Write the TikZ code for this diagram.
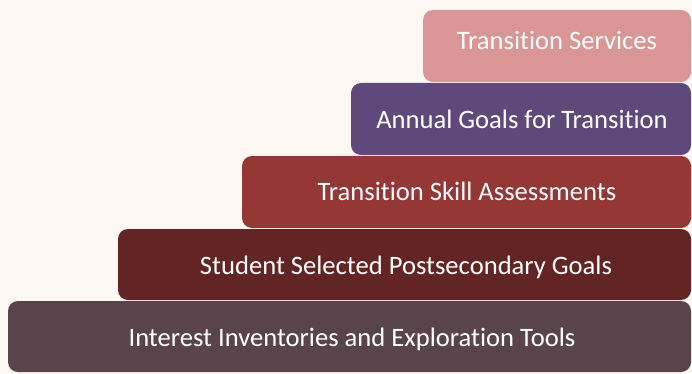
\documentclass[tikz,border=0pt]{standalone}
\usepackage{fontspec}
\setmainfont{Carlito}[Ligatures={NoCommon}]
\definecolor{bgc}{HTML}{FDF8F4}
\definecolor{c1}{HTML}{D99694}
\definecolor{c2}{HTML}{5F497A}
\definecolor{c3}{HTML}{953735}
\definecolor{c4}{HTML}{632523}
\definecolor{c5}{HTML}{5A444C}
\begin{document}
\begin{tikzpicture}[x=1pt,y=-1pt,
  bar/.style={rounded corners=10pt},
  lbl/.style={text=white,font=\fontsize{26.6}{30}\selectfont,anchor=base,inner sep=0pt}]
\fill[bgc] (0,0) rectangle (692,374);
\useasboundingbox (0,0) rectangle (692,374);
\fill[bar,c5] (8,301) rectangle (691,372);
\fill[bar,c4] (118,229) rectangle (691,300);
\fill[bar,c3] (242,156) rectangle (691,228);
\fill[bar,c2] (351,83) rectangle (691,155);
\fill[bar,c1] (423,10) rectangle (691,82);
\node[lbl] (t1) at (557,50) {Transition Services};
\node[lbl] (t2) at (522,129) {Annual Goals for Transition};
\node[lbl] (t3) at (467,200) {Transition Skill Assessments};
\node[lbl] (t4) at (406,274) {Student Selected Postsecondary Goals};
\node[lbl] (t5) at (352,346) {Interest Inventories and Exploration Tools};
\end{tikzpicture}
\end{document}
